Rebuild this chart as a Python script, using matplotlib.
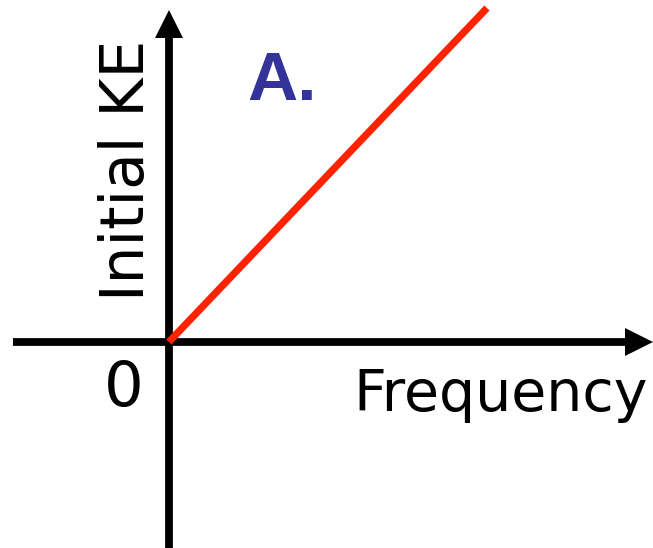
import numpy as np
import matplotlib.pyplot as plt

# straight line through origin: KE vs frequency (arbitrary units)
frequency = [0.0, 1.0]
initial_ke = [0.0, 1.0]

x_label = "Frequency"
y_label = "Initial KE"
origin_label = "0"
panel_label = "A."

fig = plt.figure(figsize=(6.53, 5.48), dpi=100)
ax = fig.add_axes([0, 0, 1, 1])
ax.set_xlim(-0.531, 1.522)
ax.set_ylim(-0.617, 1.024)
ax.axis("off")

# axes lines + triangle heads
ax.plot([-0.49, 1.46], [0, 0], color="black", lw=5.6, solid_capstyle="butt")
ax.plot([0, 0], [-0.617, 0.94], color="black", lw=5.6, solid_capstyle="butt")
ax.plot([1.478], [0], marker=">", ms=20, color="black", mew=0)
ax.plot([0], [0.952], marker="^", ms=20, color="black", mew=0)

ax.plot(frequency, initial_ke, color="#ff2200", lw=5.2, solid_capstyle="butt", zorder=3)

ax.text(1.044, -0.159, x_label, fontsize=41, ha="center", va="center")
ax.text(-0.129, 0.515, y_label, fontsize=43, rotation=90, ha="center", va="center")
ax.text(-0.142, -0.141, origin_label, fontsize=45, ha="center", va="center")
ax.text(0.355, 0.778, panel_label, fontsize=50, fontweight="bold", color="#333399",
        family="Liberation Sans", ha="center", va="center")

fig.savefig("out.png", dpi=100)
